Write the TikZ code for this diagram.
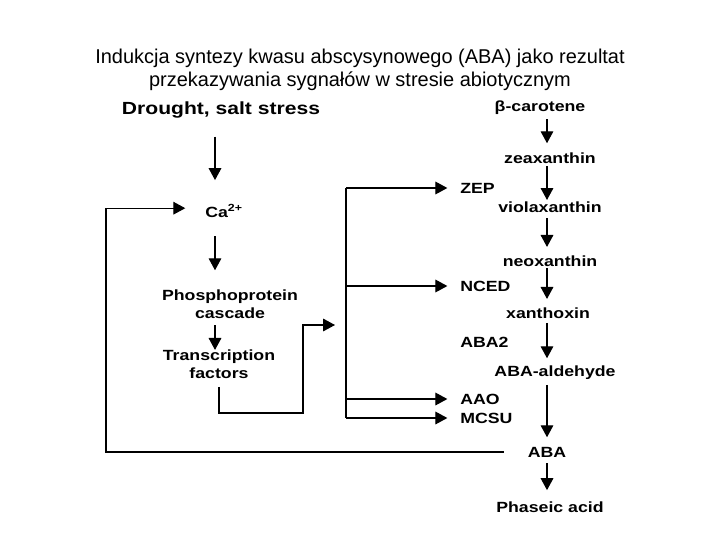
\documentclass[tikz,border=0pt]{standalone}
\usepackage{fontspec}
\setmainfont{Liberation Sans}
\newfontfamily\lblfont[FakeStretch=1.2]{Liberation Sans}
\usetikzlibrary{arrows.meta}

\tikzset{
  lbl/.style={font=\lblfont\bfseries\fontsize{10.5}{12.5}\selectfont, inner sep=0pt, align=center},
  arr/.style={-{Triangle[width=9pt,length=8.5pt]}, line width=0.8pt},
  line/.style={line width=0.8pt}
}

\begin{document}
\begin{tikzpicture}[x=0.025cm,y=-0.025cm]
\useasboundingbox (0,0) rectangle (720,540);

% Title
\node[align=center, font=\fontsize{14.2}{16.5}\selectfont] (title) at (360,70)
  {Indukcja syntezy kwasu abscysynowego (ABA) jako rezultat\\przekazywania sygnałów w stresie abiotycznym};

% Signalling
\node[lbl, font=\lblfont\bfseries\fontsize{12.5}{14}\selectfont] (drought) at (221,110) {Drought, salt stress};
\node[lbl] (ca) at (224,211) {Ca\textsuperscript{2+}};
\node[lbl] (phos) at (230,304) {Phosphoprotein\\cascade};
\node[lbl] (trans) at (219,364) {Transcription\\factors};

% Biosynthesis
\node[lbl] (carot) at (540,108) {β-carotene};
\node[lbl] (zea) at (550,158) {zeaxanthin};
\node[lbl] (viola) at (550,207) {violaxanthin};
\node[lbl] (neo) at (550,261) {neoxanthin};
\node[lbl] (xan) at (548,313) {xanthoxin};
\node[lbl] (ald) at (555,373) {ABA-aldehyde};
\node[lbl] (aba) at (547,452) {ABA};
\node[lbl] (phas) at (550,507) {Phaseic acid};

% Enzymes
\node[lbl, anchor=west] (zep) at (460,188) {ZEP};
\node[lbl, anchor=west] (nced) at (460,286) {NCED};
\node[lbl, anchor=west] (aba2) at (460,342) {ABA2};
\node[lbl, anchor=west] (aao) at (460,399) {AAO};
\node[lbl, anchor=west] (mcsu) at (460,418) {MCSU};

% Columns
\coordinate (lx) at (215,0);
\coordinate (rx) at (547,0);
\coordinate (bus) at (346,0);
\coordinate (fb) at (106,453);
\coordinate (tfturn) at (303,413);
\coordinate (tfend) at (335,325);

% Left arrows
\draw[arr, shorten <=19pt, shorten >=22pt] (lx |- drought) -- (lx |- ca);
\draw[arr, shorten <=18pt, shorten >=24pt] (lx |- ca) -- (lx |- phos);
\draw[arr, shorten <=15pt, shorten >=10pt] (lx |- phos) -- (lx |- trans);

% Right arrows
\draw[arr, shorten <=8pt, shorten >=10.5pt] (rx |- carot) -- (rx |- zea);
\draw[arr, shorten <=6pt, shorten >=5pt] (rx |- zea) -- (rx |- viola);
\draw[arr, shorten <=8pt, shorten >=10pt] (rx |- viola) -- (rx |- neo);
\draw[arr, shorten <=5pt, shorten >=10pt] (rx |- neo) -- (rx |- xan);
\draw[arr, shorten <=7pt, shorten >=10.5pt] (rx |- xan) -- (rx |- ald);
\draw[arr, shorten <=8.5pt, shorten >=10.5pt] (rx |- ald) -- (rx |- aba);
\draw[arr, shorten <=8pt, shorten >=12pt] (rx |- aba) -- (rx |- phas);

% Gene induction
\draw[arr, shorten <=6pt] (trans.south) |- (tfturn) |- (tfend);
\draw[line] (bus |- zep.west) -- (bus |- mcsu.west);
\draw[arr, shorten >=9pt] (bus |- zep.west) -- (zep.west);
\draw[arr, shorten >=9pt] (bus |- nced.west) -- (nced.west);
\draw[arr, shorten >=9pt] (bus |- aao.west) -- (aao.west);
\draw[arr, shorten >=9pt] (bus |- mcsu.west) -- (mcsu.west);

% Feedback
\draw[arr, shorten <=17pt, shorten >=14pt] (aba.west) -- (aba.west -| fb) |- ([yshift=2pt]ca.west);
\end{tikzpicture}
\end{document}
